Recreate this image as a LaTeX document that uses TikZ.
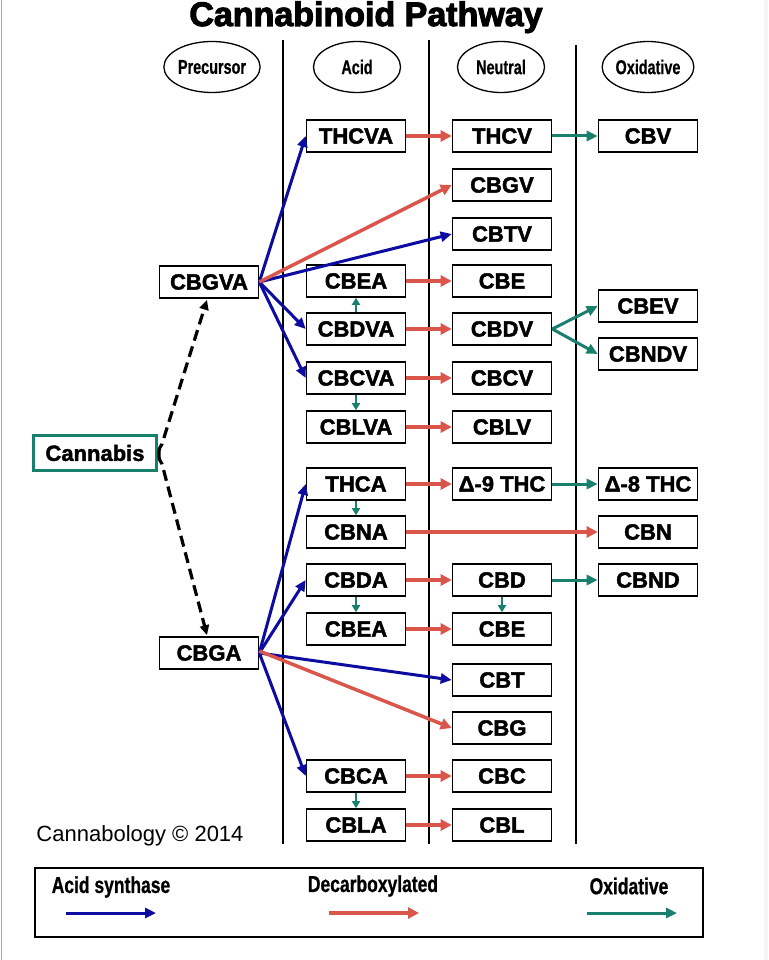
\documentclass[tikz,border=0pt]{standalone}
\usepackage{fontspec}
\setmainfont{Liberation Sans}
\font\titlef="Liberation Sans/B:embolden=3" at 34pt
\font\boxf="Liberation Sans/B:embolden=2" at 22pt
\font\condf="Liberation Sans/B:extend=0.72;embolden=0.5" at 20pt
\font\legf="Liberation Sans/B:extend=0.76;embolden=0.8" at 23pt
\usetikzlibrary{arrows.meta,shapes.geometric}
\definecolor{synblue}{RGB}{12,12,160}
\definecolor{decred}{RGB}{218,86,74}
\definecolor{oxteal}{RGB}{24,128,108}
\begin{document}
\begin{tikzpicture}[x=1pt,y=-1pt,
  cbox/.style={draw, line width=1.6pt, fill=white, minimum width=99pt, minimum height=32pt, inner sep=0pt, font=\boxf},
  ell/.style={draw, ellipse, line width=1.3pt, minimum width=87pt, minimum height=51pt, inner sep=0pt, font=\condf},
  colline/.style={line width=2pt, black},
  synarrow/.style={synblue, line width=3pt, -{Triangle[length=11pt,width=10pt]}},
  decarrow/.style={decred, line width=3.5pt, -{Triangle[length=11pt,width=11pt]}},
  oxarrow/.style={oxteal, line width=3pt, -{Triangle[length=11pt,width=10pt]}},
  oxvarrow/.style={oxteal, line width=2pt, -{Triangle[length=7pt,width=8pt]}},
  dashline/.style={black, line width=3.2pt, dash pattern=on 11pt off 6pt, -{Triangle[length=10pt,width=9pt]}},
  legtext/.style={font=\legf, inner sep=0pt}
]
\useasboundingbox (0,0) rectangle (768,960);
\fill[white] (0,0) rectangle (768,960);
\draw[gray!70, line width=1.5pt] (1.5,0) -- (1.5,960);
\fill[gray!8] (764,0) rectangle (768,960);

% title
\node[font=\titlef, inner sep=0pt, anchor=base] (title) at (366,26) {Cannabinoid Pathway};

% column lines
\draw[colline] (283,40) -- (283,844);
\draw[colline] (429,40) -- (429,844);
\draw[colline] (576,45) -- (576,844);

% headers
\node[ell] (hprec) at (212,67) {Precursor};
\node[ell] (hacid) at (357,67) {Acid};
\node[ell] (hneut) at (501,67) {Neutral};
\node[ell] (hoxid) at (648,67) {Oxidative};

% precursor
\node[cbox] (CBGVA) at (209,282) {CBGVA};
\node[cbox] (CBGA) at (209,653) {CBGA};
\node[cbox, draw=oxteal, line width=2.5pt, minimum width=123pt, minimum height=35pt] (Cannabis) at (95,453) {Cannabis};

% acid column
\node[cbox] (THCVA) at (356,136) {THCVA};
\node[cbox] (CBEAv) at (356,281) {CBEA};
\node[cbox] (CBDVA) at (356,329) {CBDVA};
\node[cbox] (CBCVA) at (356,378) {CBCVA};
\node[cbox] (CBLVA) at (356,427) {CBLVA};
\node[cbox] (THCA) at (356,484) {THCA};
\node[cbox] (CBNA) at (356,532) {CBNA};
\node[cbox] (CBDA) at (356,580) {CBDA};
\node[cbox] (CBEA) at (356,629) {CBEA};
\node[cbox] (CBCA) at (356,776) {CBCA};
\node[cbox] (CBLA) at (356,825) {CBLA};

% neutral column
\node[cbox] (THCV) at (502,136) {THCV};
\node[cbox] (CBGV) at (502,185) {CBGV};
\node[cbox] (CBTV) at (502,234) {CBTV};
\node[cbox] (CBEv) at (502,281) {CBE};
\node[cbox] (CBDV) at (502,329) {CBDV};
\node[cbox] (CBCV) at (502,378) {CBCV};
\node[cbox] (CBLV) at (502,427) {CBLV};
\node[cbox] (D9) at (502,484) {Δ-9 THC};
\node[cbox] (CBD) at (502,580) {CBD};
\node[cbox] (CBE) at (502,629) {CBE};
\node[cbox] (CBT) at (502,680) {CBT};
\node[cbox] (CBG) at (502,728) {CBG};
\node[cbox] (CBC) at (502,776) {CBC};
\node[cbox] (CBL) at (502,825) {CBL};

% oxidative column
\node[cbox] (CBV) at (648,136) {CBV};
\node[cbox] (CBEV) at (648,306) {CBEV};
\node[cbox] (CBNDV) at (648,354) {CBNDV};
\node[cbox] (D8) at (648,484) {Δ-8 THC};
\node[cbox] (CBN) at (648,532) {CBN};
\node[cbox] (CBND) at (648,580) {CBND};

% dashed from Cannabis
\coordinate (cj) at (159,454);
\draw[dashline] (cj) .. controls (159,449) .. (162,444) -- ([xshift=-2pt,yshift=-1pt]CBGVA.south);
\draw[dashline] (cj) .. controls (159,459) .. (162,464) -- ([xshift=-2pt,yshift=1pt]CBGA.north);

% acid synthase (blue)
\draw[synarrow] (CBGVA.east) -- (THCVA.west);
\draw[synarrow] (CBGVA.east) -- (CBTV.west);
\draw[synarrow] (CBGVA.east) -- (CBDVA.west);
\draw[synarrow] (CBGVA.east) -- (CBCVA.west);
\draw[synarrow] (CBGA.east) -- (THCA.west);
\draw[synarrow] (CBGA.east) -- (CBDA.west);
\draw[synarrow] (CBGA.east) -- (CBT.west);
\draw[synarrow] (CBGA.east) -- (CBCA.west);

% decarboxylated (red)
\draw[decarrow] (CBGVA.east) -- (CBGV.west);
\draw[decarrow] ([yshift=2pt]CBGA.east) -- (CBG.west);
\draw[decarrow] (THCVA) -- (THCV);
\draw[decarrow] (CBEAv) -- (CBEv);
\draw[decarrow] (CBDVA) -- (CBDV);
\draw[decarrow] (CBCVA) -- (CBCV);
\draw[decarrow] (CBLVA) -- (CBLV);
\draw[decarrow] (THCA) -- (D9);
\draw[decarrow] (CBNA) -- (CBN);
\draw[decarrow] (CBDA) -- (CBD);
\draw[decarrow] (CBEA) -- (CBE);
\draw[decarrow] (CBCA) -- (CBC);
\draw[decarrow] (CBLA) -- (CBL);

% oxidative (teal)
\draw[oxarrow] (THCV) -- (CBV);
\draw[oxarrow] (CBDV.east) -- (CBEV.west);
\draw[oxarrow] (CBDV.east) -- (CBNDV.west);
\draw[oxarrow] (D9) -- (D8);
\draw[oxarrow] (CBD) -- (CBND);
\draw[oxvarrow] (CBDVA) -- (CBEAv);
\draw[oxvarrow] (CBCVA) -- (CBLVA);
\draw[oxvarrow] (THCA) -- (CBNA);
\draw[oxvarrow] (CBDA) -- (CBEA);
\draw[oxvarrow] (CBD) -- (CBE);
\draw[oxvarrow] (CBCA) -- (CBLA);

% copyright
\node[font=\fontsize{22}{22}\selectfont, inner sep=0pt] (copy) at (140,836) {Cannabology © 2014};

% legend
\node[draw, line width=2pt, minimum width=668pt, minimum height=69pt, inner sep=0pt] (legend) at (369,902) {};
\node[legtext] (l1) at (111,887) {Acid synthase};
\node[legtext] (l2) at (373,886) {Decarboxylated};
\node[legtext] (l3) at (629,886) {Oxidative};
\coordinate (b1) at (66,913); \coordinate (b2) at (156,913);
\coordinate (r1) at (329,913); \coordinate (r2) at (419,913);
\coordinate (t1) at (587,913); \coordinate (t2) at (677,913);
\draw[synarrow] (b1) -- (b2);
\draw[decarrow] (r1) -- (r2);
\draw[oxarrow] (t1) -- (t2);
\end{tikzpicture}
\end{document}
